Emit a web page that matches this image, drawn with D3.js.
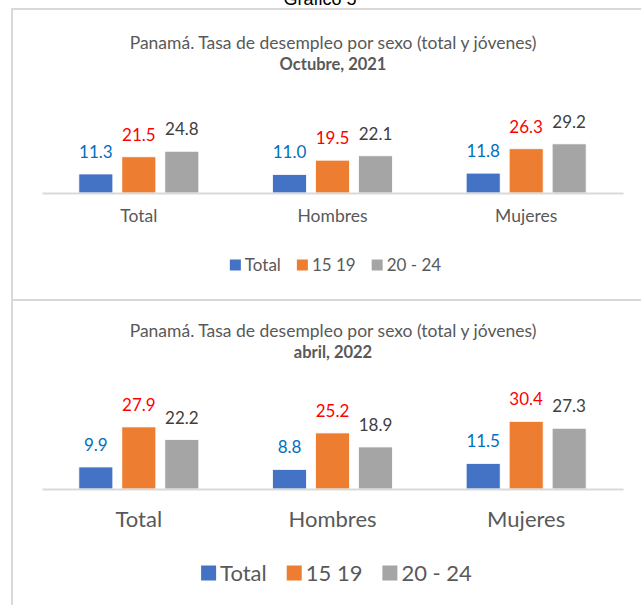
<!DOCTYPE html>
<meta charset="utf-8">
<style>
  body { margin: 0; background: #fff; }
  text { font-family: Lato, "Noto Sans", sans-serif; }
</style>
<script src="https://d3js.org/d3.v7.min.js"></script>
<div id="my_dataviz"></div>
<script>

// data
var categories = ["Total", "Hombres", "Mujeres"];
var seriesNames = ["Total", "15 19", "20 - 24"];

var oct2021_total = [11.3, 11.0, 11.8];
var oct2021_15_19 = [21.5, 19.5, 26.3];
var oct2021_20_24 = [24.8, 22.1, 29.2];

var abr2022_total = [9.9, 8.8, 11.5];
var abr2022_15_19 = [27.9, 25.2, 30.4];
var abr2022_20_24 = [22.2, 18.9, 27.3];

var barColors = ["#4472C4", "#ED7D31", "#A5A5A5"];
var labelColors = ["#0070C0", "#FF0000", "#404040"];

var W = 641, H = 605;

var svg = d3.select("#my_dataviz")
  .append("svg")
    .attr("width", W)
    .attr("height", H);

// page heading, mostly cut off at the top
svg.append("text")
    .attr("x", 320)
    .attr("y", 5)
    .attr("text-anchor", "middle")
    .style("font-family", "'Liberation Sans', Arial")
    .style("font-size", "18px")
    .text("Gráfico 5");

function drawChart(opts) {
  var g = svg.append("g");

  // frame
  g.append("rect")
    .attr("x", opts.box[0])
    .attr("y", opts.box[1])
    .attr("width", opts.box[2])
    .attr("height", opts.box[3])
    .style("fill", "#fff")
    .style("stroke", "#D9D9D9")
    .style("stroke-width", 2);

  g.append("text")
    .attr("x", 333).attr("y", opts.titleY)
    .attr("text-anchor", "middle")
    .style("font-size", "17.5px")
    .style("fill", "#595959")
    .text("Panamá. Tasa de desempleo por sexo (total y jóvenes)");

  g.append("text")
    .attr("x", 333).attr("y", opts.titleY + 21)
    .attr("text-anchor", "middle")
    .style("font-size", "16.5px")
    .style("font-weight", "bold")
    .style("fill", "#595959")
    .text(opts.subtitle);

  var x = d3.scaleBand()
    .domain(categories)
    .range([42, 623]);

  var xs = d3.scaleBand()
    .domain(seriesNames)
    .range([0, x.bandwidth()])
    .paddingInner(9 / 43)
    .paddingOuter(0.857);

  var y = d3.scaleLinear()
    .domain(opts.yDomain)
    .range([opts.base, opts.yTop]);

  var data = [];
  opts.series.forEach(function(vals, si) {
    vals.forEach(function(v, ci) {
      data.push({cat: categories[ci], ser: seriesNames[si], si: si, value: v});
    });
  });

  g.selectAll("bars")
    .data(data)
    .enter()
    .append("rect")
      .attr("x", function(d) { return x(d.cat) + xs(d.ser); })
      .attr("y", function(d) { return y(d.value); })
      .attr("width", xs.bandwidth())
      .attr("height", function(d) { return y(0) - y(d.value); })
      .style("fill", function(d) { return barColors[d.si]; })
      .style("stroke", "#fff")
      .style("stroke-width", 0.8);

  g.selectAll("labels")
    .data(data)
    .enter()
    .append("text")
      .attr("x", function(d) { return x(d.cat) + xs(d.ser) + xs.bandwidth() / 2; })
      .attr("y", function(d) { return y(d.value) - 16; })
      .attr("text-anchor", "middle")
      .style("font-size", "17px")
      .style("fill", function(d) { return labelColors[d.si]; })
      .text(function(d) { return d3.format(".1f")(d.value); });

  // axis line
  var xAxis = g.append("g")
    .attr("transform", "translate(0," + opts.base + ")")
    .call(d3.axisBottom(x).tickSize(0).tickPadding(opts.catPad));
  xAxis.select(".domain")
    .attr("stroke", "#D9D9D9")
    .attr("stroke-width", 2);
  xAxis.selectAll("text")
    .style("font-family", "Lato, 'Noto Sans', sans-serif")
    .style("font-size", opts.catSize + "px")
    .style("fill", "#595959");

  // legend
  var legend = g.append("g");
  var cx = 0;
  seriesNames.forEach(function(name, i) {
    var item = legend.append("g").attr("transform", "translate(" + cx + ",0)");
    item.append("rect")
      .attr("x", 0)
      .attr("y", -opts.sq / 2)
      .attr("width", opts.sq)
      .attr("height", opts.sq)
      .style("fill", barColors[i]);
    var t = item.append("text")
      .attr("x", opts.sq + 4)
      .attr("dy", "0.35em")
      .style("font-size", opts.legSize + "px")
      .style("fill", "#595959")
      .text(name);
    cx += opts.sq + 4 + t.node().getComputedTextLength() + opts.legGap;
  });
  var lw = cx - opts.legGap;
  legend.attr("transform", "translate(" + (opts.legCenter - lw / 2) + "," + opts.legY + ")");
}

drawChart({
  box: [12, 9, 650, 291],
  titleY: 49,
  subtitle: "Octubre, 2021",
  series: [oct2021_total, oct2021_15_19, oct2021_20_24],
  yDomain: [0, 60],
  base: 193,
  yTop: 92,
  catPad: 17,
  catSize: 17.5,
  sq: 11,
  legSize: 17,
  legGap: 16,
  legCenter: 335.5,
  legY: 265
});

drawChart({
  box: [12, 300, 650, 320],
  titleY: 337,
  subtitle: "abril, 2022",
  series: [abr2022_total, abr2022_15_19, abr2022_20_24],
  yDomain: [0, 40],
  base: 489,
  yTop: 400,
  catPad: 22,
  catSize: 22,
  sq: 15,
  legSize: 22,
  legGap: 20,
  legCenter: 336.5,
  legY: 573
});

</script>
